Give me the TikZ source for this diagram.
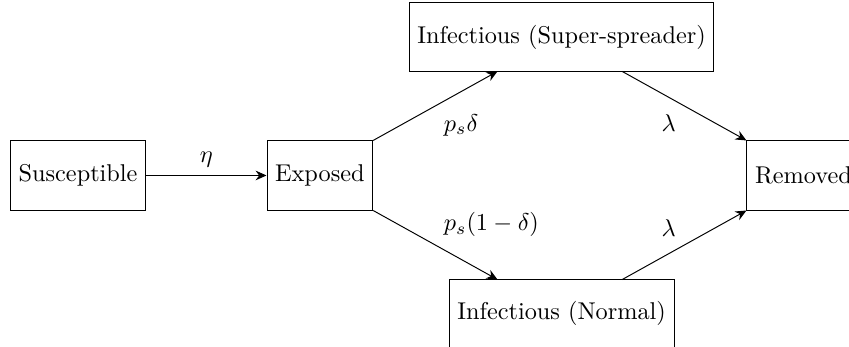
\documentclass[tikz,border=0pt]{standalone}
\usetikzlibrary{arrows.meta}
\begin{document}
\begin{tikzpicture}[>={Stealth[length=4.5pt,width=4pt,inset=1.5pt]}, box/.style={draw, minimum height=1cm}]
                \useasboundingbox (-4.63,-2.47) rectangle (7.66,2.54);
                \node[box] (susceptible) at (-3.5,0) {Susceptible};
                \node[box] (exposed) at (0,0) {Exposed};
                \node[box] (super) at (3.5,2) {Infectious (Super-spreader)};
                \node[box] (normal) at (3.5,-2) {Infectious (Normal)};
                \node[box] (removed) at (7,0) {Removed};

                \coordinate (superin) at ([xshift=1.8cm,yshift=1cm]exposed.north east);
                \coordinate (normalin) at ([xshift=1.8cm,yshift=-1cm]exposed.south east);
                \coordinate (superout) at ([xshift=-1.8cm,yshift=1cm]removed.north west);
                \coordinate (normalout) at ([xshift=-1.8cm,yshift=-1cm]removed.south west);

                \draw[->] (susceptible) -- (exposed) node[midway, above] (eta) {\(\eta\)};
                \draw[->] (exposed.north east) -- (superin) node[midway, below right] (ratesuper) {\(p_s\delta\)};
                \draw[->] (exposed.south east) -- (normalin) node[midway, above right] (ratenormal) {\(p_s(1-\delta)\)};

                \draw[->] (superout) -- (removed.north west) node[midway, below left] (lambdasuper) {\(\lambda\)};
                \draw[->] (normalout) -- (removed.south west) node[midway, above left] (lambdanormal) {\(\lambda\)};
            \end{tikzpicture}
\end{document}
